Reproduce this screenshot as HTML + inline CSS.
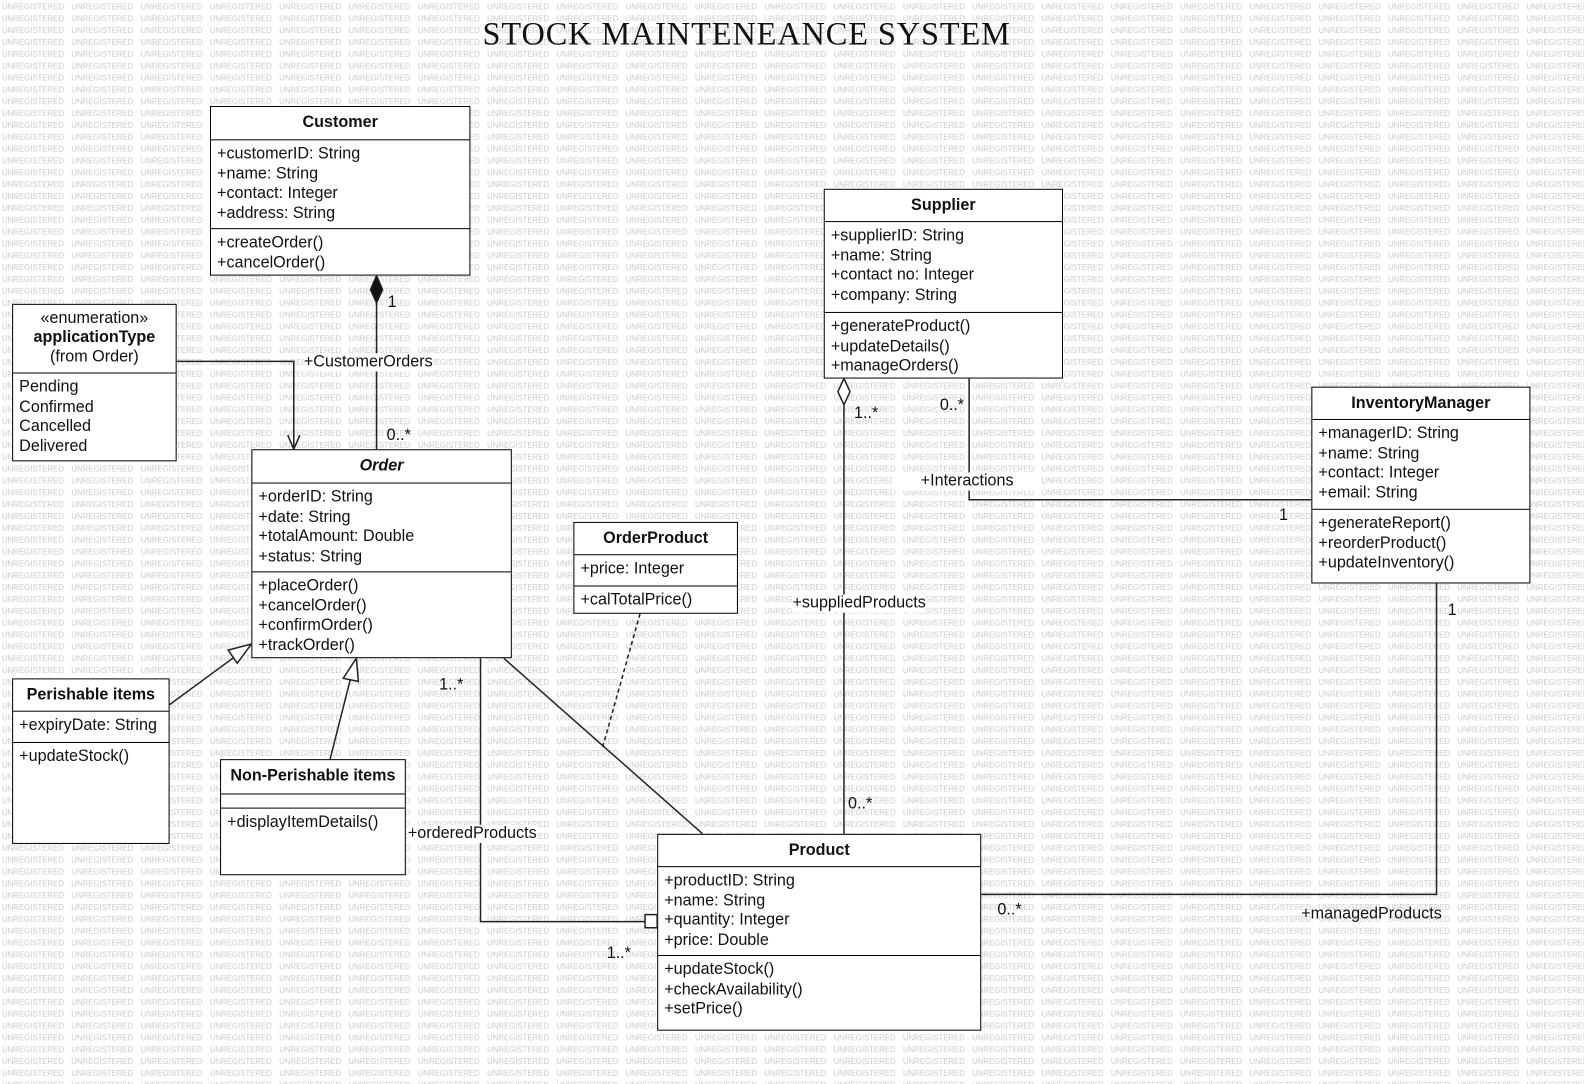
<!DOCTYPE html>
<html><head><meta charset="utf-8"><style>
body{margin:0;width:1584px;height:1084px;overflow:hidden;background:#fff;font-family:"Liberation Sans",sans-serif;}
#wm{position:absolute;left:0;top:0}
#c{position:absolute;left:0;top:0;width:1570px;height:1074px;transform:scale(1.0095);transform-origin:0 0}
.b{position:absolute;border:1.5px solid #000;background:#fff;box-sizing:border-box;font-size:16px;color:#111}
.h{font-weight:bold;text-align:center;box-sizing:border-box;padding-top:7px;border-bottom:1.3px solid #000}
.s{box-sizing:border-box;padding:4px 0 0 6px;line-height:19.5px}
.s2{border-top:1.3px solid #000}
.l{position:absolute;font-size:16px;color:#111;background:#fff;line-height:18px;white-space:nowrap}
.n{position:absolute;font-size:16px;color:#111;line-height:18px;white-space:nowrap}
svg{position:absolute;left:0;top:0}
</style></head><body>
<svg id="wm" width="1584" height="1084"><defs><pattern id="p" width="69.3" height="11.85" patternUnits="userSpaceOnUse" x="0" y="0"><text x="2" y="9.5" font-family="Liberation Sans, sans-serif" font-size="8.6" fill="#c9c9c9" textLength="62" lengthAdjust="spacingAndGlyphs">UNREGISTERED</text></pattern></defs><rect width="1584" height="1084" fill="url(#p)"/></svg>
<div id="c">
<svg width="1570" height="1074">
<g stroke="#222" stroke-width="1.5" fill="none">
<line x1="373" y1="300" x2="373" y2="445"/>
<polygon points="373,273 379,287 373,300 367,287" fill="#111"/>
<polyline points="175,358 291,358 291,444"/>
<polyline points="285,431 291,445 297,431"/>
<line x1="168" y1="698" x2="232" y2="651"/>
<polygon points="249,638 226,644 235,657" fill="#fff"/>
<line x1="327" y1="752" x2="347" y2="673"/>
<polygon points="353,652 340,672 355,675" fill="#fff"/>
<polyline points="476,652 476,913 639,913"/>
<rect x="639" y="906" width="12" height="13" fill="#fff"/>
<line x1="499" y1="652" x2="696" y2="826"/>
<line x1="634" y1="608" x2="597" y2="740" stroke-dasharray="4,3"/>
<line x1="836" y1="400" x2="836" y2="826"/>
<polygon points="836,375 842,388 836,401 830,388" fill="#fff"/>
<polyline points="960,375 960,495 1299,495"/>
<polyline points="1423,578 1423,886 972,886"/>
</g>
</svg>
<div class="n" style="left:478px;top:15px;font-family:'Liberation Serif',serif;font-size:32px;line-height:36px;letter-spacing:0.9px">STOCK MAINTENEANCE SYSTEM</div>

<div class="b" style="left:208px;top:105px;width:258px;height:168px"><div class="h" style="height:33px">Customer</div><div class="s" style="height:87px">+customerID: String<br>+name: String<br>+contact: Integer<br>+address: String</div><div class="s s2">+createOrder()<br>+cancelOrder()</div></div>

<div class="b" style="left:12px;top:301px;width:163px;height:156px"><div class="h" style="height:68px;font-weight:normal;padding-top:4px;line-height:19px">«enumeration»<br><b>applicationType</b><br>(from Order)</div><div class="s" style="line-height:19.5px">Pending<br>Confirmed<br>Cancelled<br>Delivered</div></div>

<div class="b" style="left:249px;top:445px;width:258px;height:207px"><div class="h" style="height:33px;font-style:italic">Order</div><div class="s" style="height:87px">+orderID: String<br>+date: String<br>+totalAmount: Double<br>+status: String</div><div class="s s2">+placeOrder()<br>+cancelOrder()<br>+confirmOrder()<br>+trackOrder()</div></div>

<div class="b" style="left:568px;top:517px;width:163px;height:91px"><div class="h" style="height:32px">OrderProduct</div><div class="s" style="height:30px">+price: Integer</div><div class="s s2">+calTotalPrice()</div></div>

<div class="b" style="left:816px;top:187px;width:237px;height:188px"><div class="h" style="height:32px">Supplier</div><div class="s" style="height:89px">+supplierID: String<br>+name: String<br>+contact no: Integer<br>+company: String</div><div class="s s2">+generateProduct()<br>+updateDetails()<br>+manageOrders()</div></div>

<div class="b" style="left:1299px;top:383px;width:217px;height:195px"><div class="h" style="height:32px">InventoryManager</div><div class="s" style="height:88px">+managerID: String<br>+name: String<br>+contact: Integer<br>+email: String</div><div class="s s2">+generateReport()<br>+reorderProduct()<br>+updateInventory()</div></div>

<div class="b" style="left:12px;top:672px;width:156px;height:164px"><div class="h" style="height:32px">Perishable items</div><div class="s" style="height:30px">+expiryDate: String</div><div class="s s2">+updateStock()</div></div>

<div class="b" style="left:218px;top:752px;width:184px;height:115px"><div class="h" style="height:34px">Non-Perishable items</div><div style="height:13px"></div><div class="s s2">+displayItemDetails()</div></div>

<div class="b" style="left:651px;top:826px;width:321px;height:195px"><div class="h" style="height:32px">Product</div><div class="s" style="height:87px">+productID: String<br>+name: String<br>+quantity: Integer<br>+price: Double</div><div class="s s2">+updateStock()<br>+checkAvailability()<br>+setPrice()</div></div>

<div class="n" style="left:384px;top:291px">1</div>
<div class="l" style="left:301px;top:350px">+CustomerOrders</div>
<div class="n" style="left:383px;top:423px">0..*</div>
<div class="n" style="left:435px;top:670px">1..*</div>
<div class="l" style="left:404px;top:817px">+orderedProducts</div>
<div class="n" style="left:601px;top:936px">1..*</div>
<div class="n" style="left:846px;top:401px">1..*</div>
<div class="l" style="left:785px;top:589px">+suppliedProducts</div>
<div class="n" style="left:840px;top:788px">0..*</div>
<div class="n" style="left:931px;top:393px">0..*</div>
<div class="l" style="left:884px;top:468px;padding:0 28px">+Interactions</div>
<div class="n" style="left:1267px;top:502px">1</div>
<div class="n" style="left:1434px;top:596px">1</div>
<div class="n" style="left:988px;top:893px">0..*</div>
<div class="n" style="left:1289px;top:897px">+managedProducts</div>
</div>
</body></html>
